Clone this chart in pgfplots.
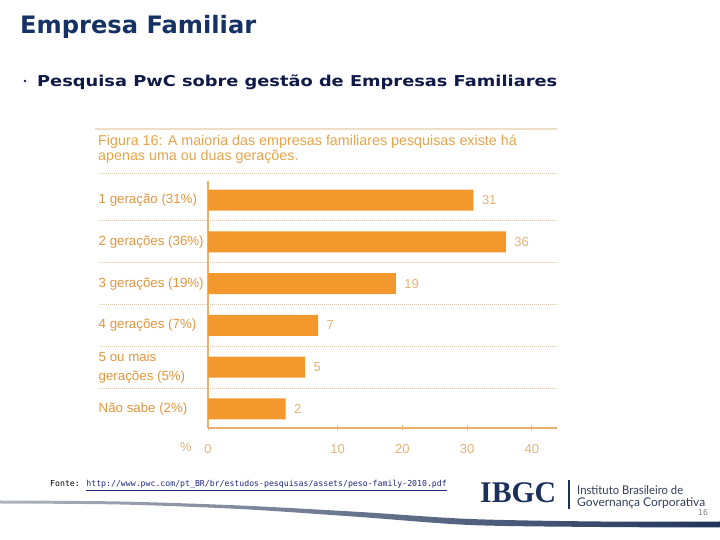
\documentclass[border=0pt]{standalone}
\usepackage{pgfplots}
\pgfplotsset{compat=1.18}
\usepackage{graphicx}
\usepackage{fontspec}
\setmainfont{Liberation Sans}
\newfontfamily\dejavu{DejaVu Sans}
\newfontfamily\dejavumono{DejaVu Sans Mono}
\newfontfamily\ibgcserif{Liberation Serif}
\newfontfamily\latofont{Lato}
\definecolor{navytitle}{RGB}{22,50,100}
\definecolor{navytext}{RGB}{16,26,72}
\definecolor{barorange}{RGB}{242,152,44}
\definecolor{captext}{RGB}{232,164,72}
\definecolor{cattext}{RGB}{226,150,62}
\definecolor{numtan}{RGB}{228,180,118}
\definecolor{axistan}{RGB}{232,176,110}
\definecolor{septan}{RGB}{222,200,172}
\definecolor{paneltan}{RGB}{238,222,200}
\definecolor{linkblue}{RGB}{30,40,130}
\definecolor{ibgcnavy}{RGB}{28,48,92}
\definecolor{ibgcgray}{RGB}{50,62,90}
\definecolor{swgray}{RGB}{175,180,190}
\definecolor{swnavy}{RGB}{32,52,92}
\begin{document}
\begin{tikzpicture}[x=1bp,y=1bp]
\fill[white] (0,0) rectangle (720,540);
\path[use as bounding box] (0,0) rectangle (720,540);

% slide title and bullet
\node[anchor=base west, inner sep=0pt, text=navytitle] at (20,506)
  {\resizebox{236bp}{\height}{\dejavu\bfseries\fontsize{24bp}{28bp}\selectfont Empresa Familiar}};
\fill[navytext] (25,459) circle (1.3);
\node[anchor=base west, inner sep=0pt, text=navytext] at (37,453)
  {\resizebox{520bp}{\height}{\dejavu\bfseries\fontsize{15bp}{18bp}\selectfont Pesquisa PwC sobre gestão de Empresas Familiares}};

% chart panel header
\draw[paneltan, line width=1.2bp] (95,411) -- (557,411);
\node[anchor=base west, inner sep=0pt, text=captext, font=\fontsize{14.3bp}{16bp}\selectfont] at (98,394)
  {Figura 16: A maioria das empresas familiares pesquisas existe há};
\node[anchor=base west, inner sep=0pt, text=captext, font=\fontsize{14.3bp}{16bp}\selectfont] at (98,379)
  {apenas uma ou duas gerações.};
\draw[septan, line width=0.9bp, dash pattern=on 0.9bp off 1.1bp] (100,367) -- (557,367);

\begin{axis}[
  at={(208bp,112bp)}, anchor=south west,
  scale only axis, width=349bp, height=247bp,
  xbar, bar width=21bp,
  x coord trafo/.code={\pgfmathparse{#1+10}},
  x coord inv trafo/.code={\pgfmathparse{#1-10}},
  xmin=-10, xmax=43.9,
  ymin=-0.455, ymax=5.455,
  /pgf/number format/assume math mode=true,
  axis x line*=bottom, axis y line*=left,
  axis line style={draw=axistan, line width=1.1bp, -},
  xtick={-10,10,20,30,40}, xticklabels={0,10,20,30,40},
  xtick style={draw=axistan, line width=0.8bp},
  major tick length=5bp, tick align=center,
  ytick={0,1,2,3,4,5},
  yticklabels={Não sabe (2\%), {5 ou mais\\gerações (5\%)}, 4 gerações (7\%), 3 gerações (19\%), 2 gerações (36\%), 1 geração (31\%)},
  ytick style={draw=none},
  yticklabel style={anchor=west, xshift=-107bp, align=left, inner sep=0pt,
    font=\fontsize{13.3bp}{19bp}\selectfont, text=cattext},
  xticklabel style={anchor=center, yshift=-19bp, inner sep=0pt,
    font=\fontsize{13bp}{15bp}\selectfont, text=numtan},
  point meta=explicit,
  nodes near coords,
  every node near coord/.append style={font=\fontsize{13bp}{15bp}\selectfont, text=numtan, anchor=west, xshift=5bp},
  clip=false,
]
\addplot[fill=barorange, draw=none] coordinates {
  (2,0) [2] (5,1) [5] (7,2) [7] (19,3) [19] (36,4) [36] (31,5) [31]
};
\draw[septan, line width=0.9bp, dash pattern=on 0.9bp off 1.1bp] ([xshift=-108bp]axis cs:-10,0.5) -- (axis cs:43.9,0.5);
\draw[septan, line width=0.9bp, dash pattern=on 0.9bp off 1.1bp] ([xshift=-108bp]axis cs:-10,1.5) -- (axis cs:43.9,1.5);
\draw[septan, line width=0.9bp, dash pattern=on 0.9bp off 1.1bp] ([xshift=-108bp]axis cs:-10,2.5) -- (axis cs:43.9,2.5);
\draw[septan, line width=0.9bp, dash pattern=on 0.9bp off 1.1bp] ([xshift=-108bp]axis cs:-10,3.5) -- (axis cs:43.9,3.5);
\draw[septan, line width=0.9bp, dash pattern=on 0.9bp off 1.1bp] ([xshift=-108bp]axis cs:-10,4.5) -- (axis cs:43.9,4.5);
\end{axis}
\node[text=numtan, font=\fontsize{13bp}{15bp}\selectfont, inner sep=0pt] at (186,93) {\%};

% footer
\node[anchor=base west, inner sep=0pt, font=\dejavumono\fontsize{8.2bp}{10bp}\selectfont] at (50,53)
  {Fonte: \textcolor{linkblue}{\underline{http://www.pwc.com/pt\_BR/br/estudos-pesquisas/assets/peso-family-2010.pdf}}};

% swoosh
\shade[left color=swgray, right color=swnavy]
  plot[smooth] coordinates {(0,39.5) (120,38.5) (240,34.5) (360,28) (470,21) (600,18.5) (720,18.5)}
  -- plot[smooth] coordinates {(720,12.5) (600,13) (470,15) (360,23) (240,31) (120,35.5) (0,36.5)}
  -- cycle;

% IBGC logo
\node[anchor=base west, inner sep=0pt, text=ibgcnavy] at (480,37)
  {\resizebox{76bp}{\height}{\ibgcserif\bfseries\fontsize{30bp}{30bp}\selectfont IBGC}};
\draw[ibgcnavy, line width=1.3bp] (569,60) -- (569,31);
\node[anchor=base west, inner sep=0pt, text=ibgcgray] at (577,45)
  {\resizebox{106bp}{\height}{\latofont\fontsize{12bp}{13bp}\selectfont Instituto Brasileiro de}};
\node[anchor=base west, inner sep=0pt, text=ibgcgray] at (577,33)
  {\resizebox{128bp}{\height}{\latofont\fontsize{12bp}{13bp}\selectfont Governança Corporativa}};
\node[anchor=base west, inner sep=0pt, text=gray, font=\dejavumono\fontsize{8bp}{10bp}\selectfont] at (698,24) {16};
\end{tikzpicture}
\end{document}
